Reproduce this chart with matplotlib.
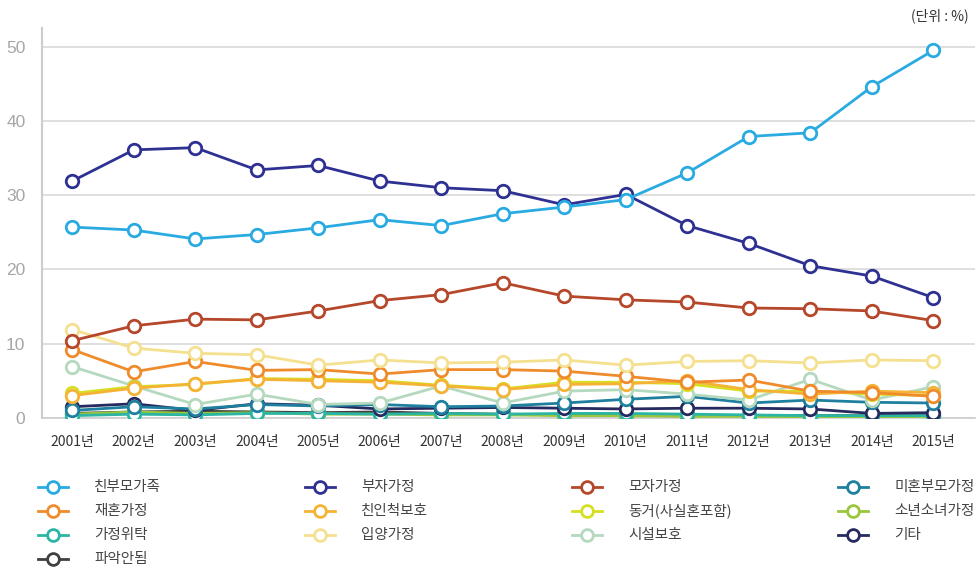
import matplotlib.pyplot as plt
from matplotlib.lines import Line2D

plt.rcParams['font.family'] = ['Noto Sans CJK KR', 'DejaVu Sans']

years = ['2001년', '2002년', '2003년', '2004년', '2005년', '2006년', '2007년',
         '2008년', '2009년', '2010년', '2011년', '2012년', '2013년', '2014년', '2015년']

labels = ['친부모가족', '부자가정', '모자가정', '미혼부모가정',
          '재혼가정', '친인척보호', '동거(사실혼포함)', '소년소녀가정',
          '가정위탁', '입양가정', '시설보호', '기타', '파악안됨']

# values (%)
v_parents = [25.7, 25.3, 24.1, 24.7, 25.6, 26.7, 25.9, 27.5, 28.4, 29.4, 33.0, 37.9, 38.4, 44.6, 49.5]
v_father = [31.9, 36.1, 36.4, 33.4, 34.0, 31.9, 31.0, 30.6, 28.7, 30.1, 25.9, 23.5, 20.5, 19.1, 16.2]
v_mother = [10.4, 12.4, 13.3, 13.2, 14.4, 15.8, 16.6, 18.2, 16.4, 15.9, 15.6, 14.8, 14.7, 14.4, 13.1]
v_unwed = [1.0, 1.5, 1.2, 1.8, 1.6, 1.8, 1.5, 1.6, 2.0, 2.5, 2.9, 2.0, 2.4, 2.1, 2.0]
v_remarry = [9.2, 6.2, 7.6, 6.4, 6.5, 5.9, 6.5, 6.5, 6.3, 5.6, 4.8, 5.1, 3.6, 3.4, 2.9]
v_relative = [3.0, 4.0, 4.6, 5.2, 5.0, 4.8, 4.3, 3.8, 4.5, 4.6, 5.0, 3.8, 3.2, 3.6, 3.4]
v_cohabit = [3.3, 4.2, 4.5, 5.3, 5.2, 5.0, 4.4, 3.9, 4.8, 4.8, 4.6, 3.6, 3.6, 3.2, 3.0]
v_youth = [0.5, 0.8, 0.6, 0.7, 0.5, 0.5, 0.4, 0.4, 0.3, 0.3, 0.2, 0.2, 0.1, 0.1, 0.1]
v_foster = [0.3, 0.5, 0.4, 0.6, 0.6, 0.5, 0.6, 0.5, 0.6, 0.6, 0.5, 0.4, 0.3, 0.3, 0.3]
v_adopt = [11.9, 9.4, 8.7, 8.5, 7.1, 7.8, 7.4, 7.5, 7.8, 7.1, 7.6, 7.7, 7.4, 7.8, 7.7]
v_facility = [6.9, 4.3, 1.8, 3.2, 1.8, 2.0, 4.3, 2.0, 3.6, 3.8, 3.2, 2.4, 5.2, 2.4, 4.2]
v_etc = [1.5, 1.9, 1.0, 1.9, 1.7, 1.2, 1.3, 1.4, 1.3, 1.2, 1.3, 1.3, 1.2, 0.6, 0.7]
v_unknown = [0.6, 0.8, 0.9, 0.8, 0.7, 0.8, 0.6, 0.5, 0.4, 0.3, 0.3, 0.3, 0.3, 0.3, 0.3]

series = [v_parents, v_father, v_mother, v_unwed, v_remarry, v_relative, v_cohabit,
          v_youth, v_foster, v_adopt, v_facility, v_etc, v_unknown]
colors = ['#29abe2', '#2e3192', '#b5472b', '#1f7f9e', '#f08b2c', '#f5b335', '#d7df23',
          '#9ac63c', '#2bb5a4', '#f5e08f', '#b4d9bf', '#262a5e', '#404040']

fig = plt.figure(figsize=(9.8, 5.74), dpi=100)
ax = fig.add_axes([0.043, 0.272, 0.952, 0.679])

x = list(range(len(years)))
order = [12, 7, 8, 11, 3, 10, 6, 5, 4, 9, 2, 1, 0]
for i in order:
    ax.plot(x, series[i], color=colors[i], lw=2, marker='o', ms=9,
            mfc='white', mec=colors[i], mew=2, zorder=3 + order.index(i))

ax.set_xlim(-0.49, 14.68)
ax.set_ylim(0, 52.5)
ax.set_yticks([0, 10, 20, 30, 40, 50])
ax.set_xticks(x)
ax.set_xticklabels(years, fontsize=10, color='#333333')
ax.tick_params(axis='y', labelsize=12.5, colors='#a6a6a6', length=0, pad=12)
ax.tick_params(axis='x', length=0, pad=12)
for lab in ax.get_yticklabels():
    lab.set_family(['Liberation Sans', 'DejaVu Sans'])
ax.grid(axis='y', color='#d9d9d9', lw=1.2)
ax.set_axisbelow(True)
for s in ['top', 'right']:
    ax.spines[s].set_visible(False)
ax.spines['left'].set_color('#cccccc')
ax.spines['left'].set_linewidth(1.5)
ax.spines['bottom'].set_color('#cccccc')
ax.spines['bottom'].set_linewidth(1.2)

fig.text(0.988, 0.972, '(단위 : %)', ha='right', va='center', fontsize=10, color='#333333')

# legend, 4 columns in rows
col_x = [38, 305, 572, 838]
row_y = [487, 511, 535, 559]
for k, lab in enumerate(labels):
    r, c = divmod(k, 4)
    x0 = col_x[c] / 980
    x1 = (col_x[c] + 30) / 980
    yy = 1 - row_y[r] / 574
    fig.add_artist(Line2D([x0, x1], [yy, yy], transform=fig.transFigure,
                          color=colors[k], lw=2))
    fig.add_artist(Line2D([(x0 + x1) / 2], [yy], transform=fig.transFigure,
                          marker='o', ms=8.5, mfc='white', mec=colors[k], mew=2))
    fig.text((col_x[c] + 56) / 980, yy, lab, ha='left', va='center',
             fontsize=10.5, color='#444444')

fig.savefig('out.png', dpi=100)
